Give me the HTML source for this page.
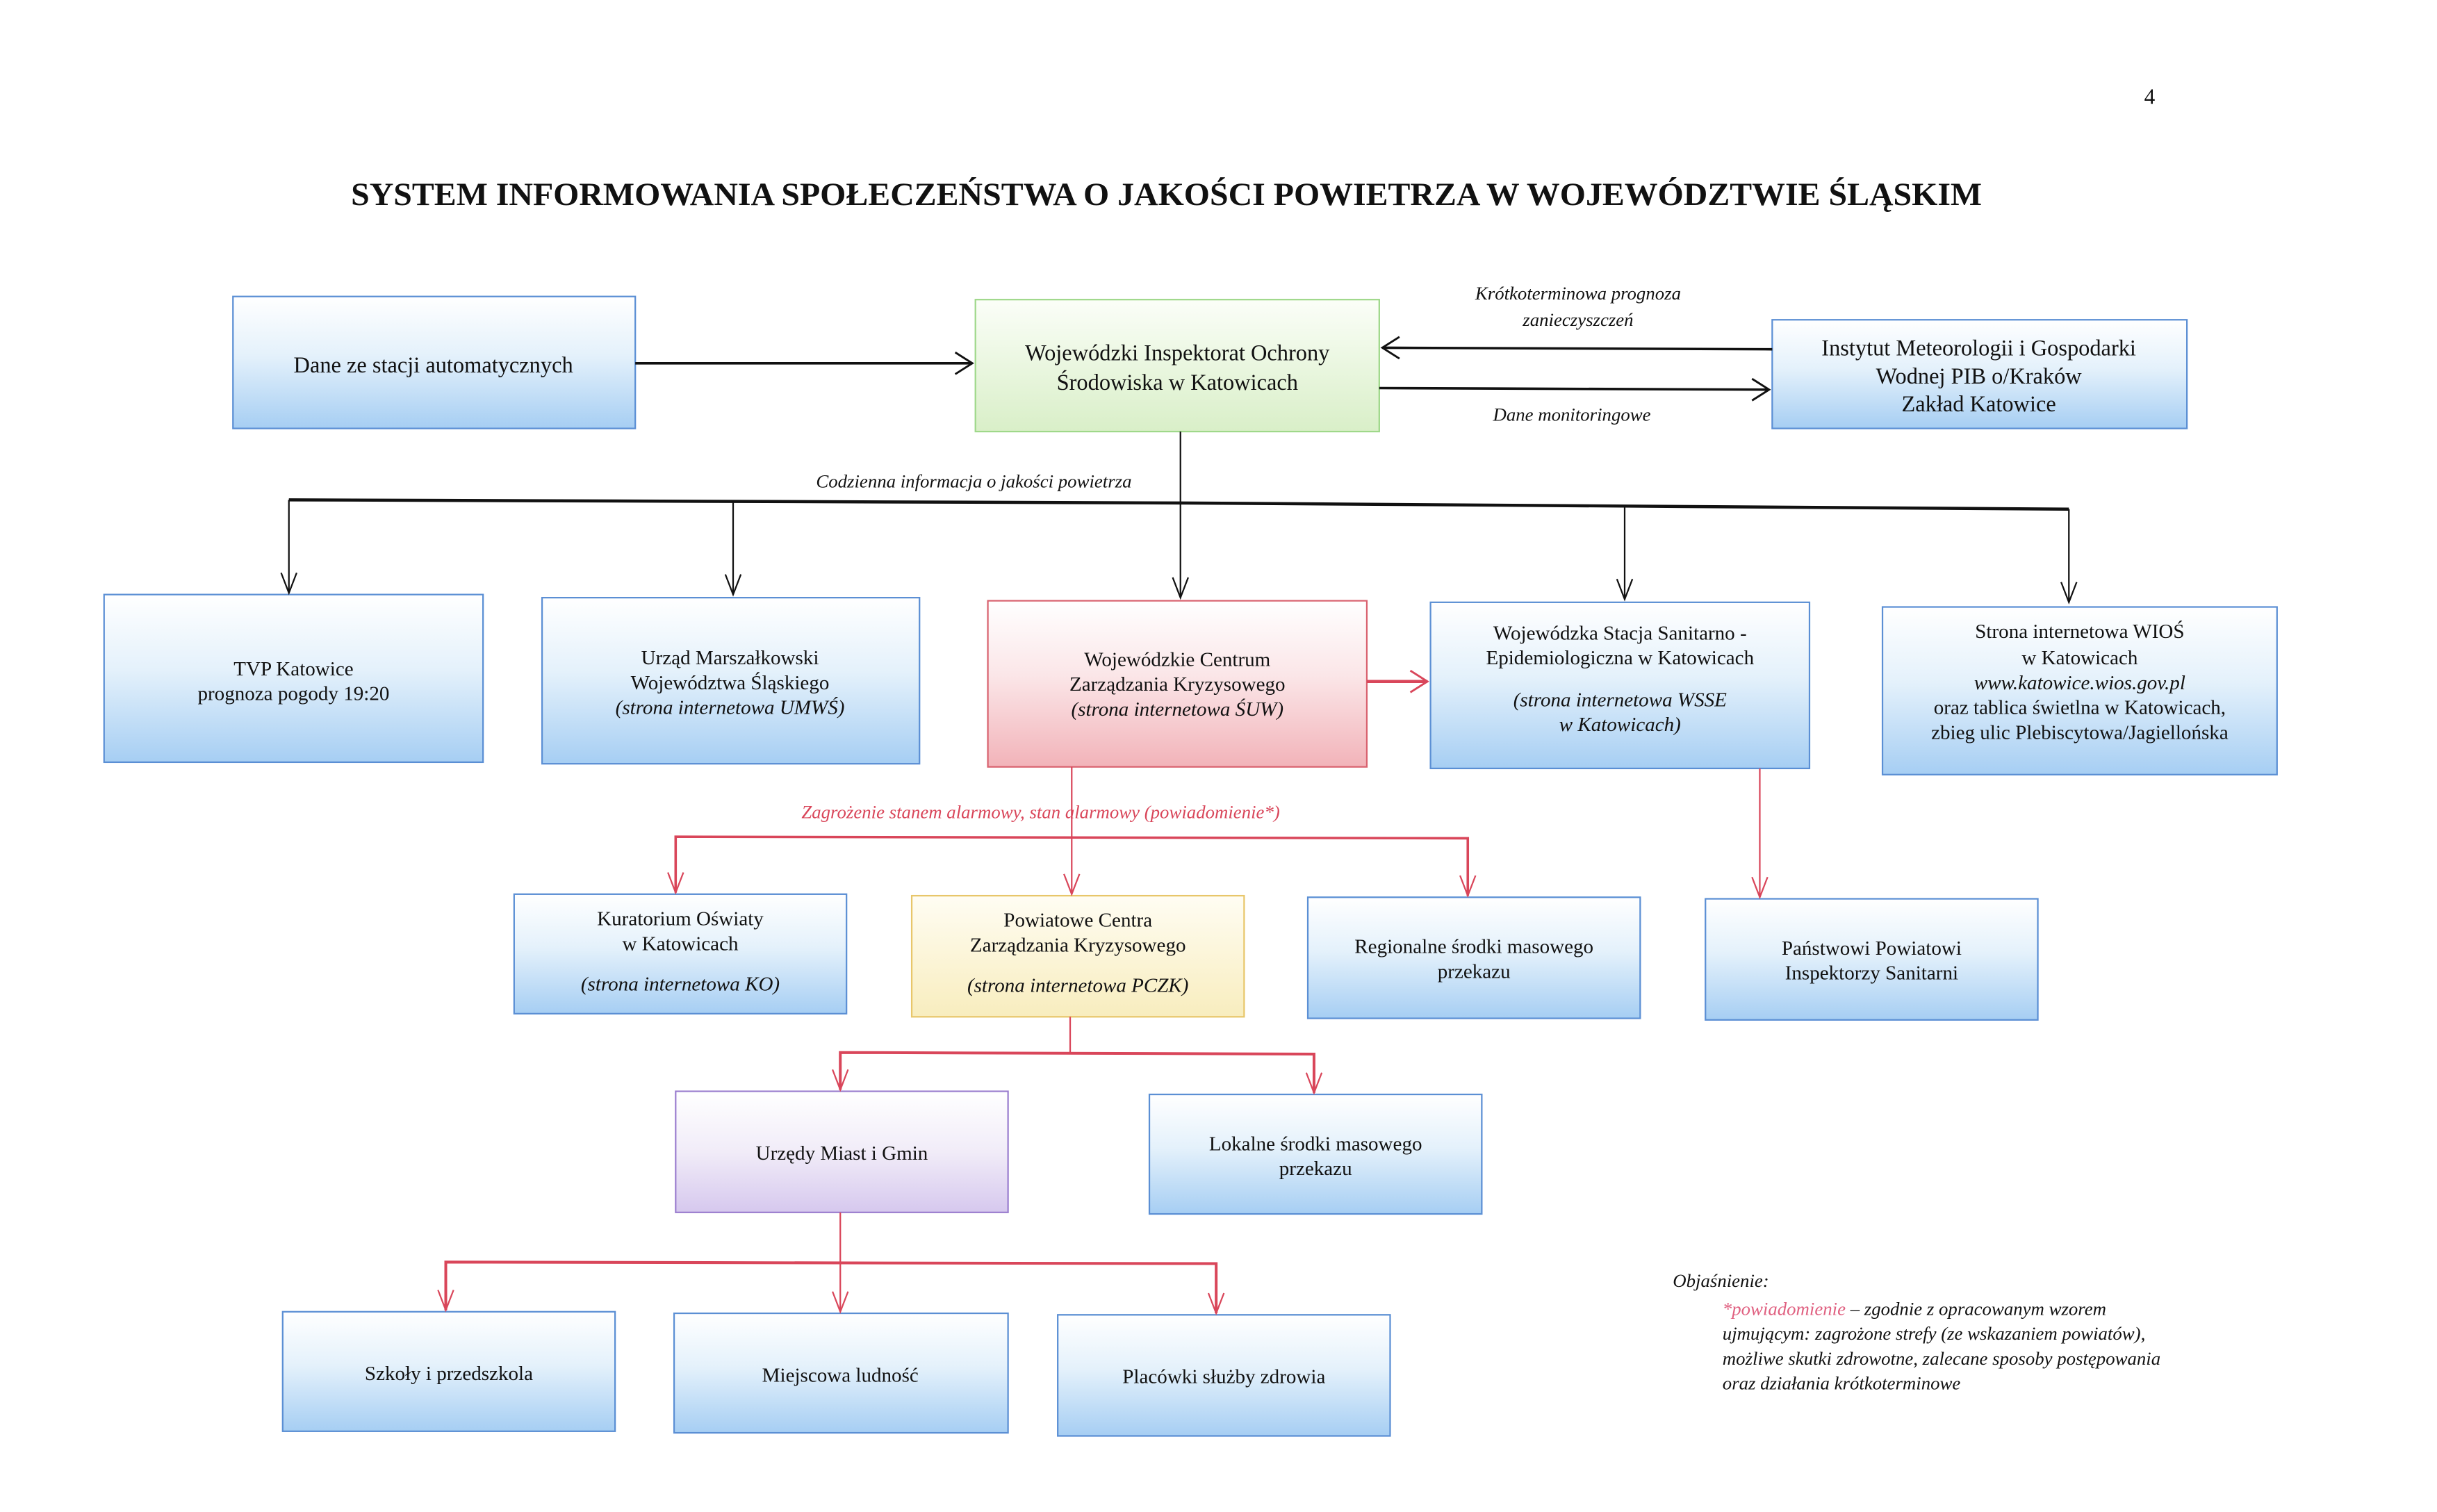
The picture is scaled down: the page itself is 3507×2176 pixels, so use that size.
<!DOCTYPE html>
<html><head><meta charset="utf-8"><style>
html,body{margin:0;padding:0;background:#fff;}
svg{display:block;}
text{font-family:"Liberation Serif",serif;fill:#111;}
</style></head><body>
<svg width="3507" height="2176" viewBox="0 0 1569 974" preserveAspectRatio="none" xmlns="http://www.w3.org/2000/svg">
<defs>
<linearGradient id="gb" x1="0" y1="0" x2="0" y2="1"><stop offset="0" stop-color="#ffffff"/><stop offset="0.45" stop-color="#e4f1fb"/><stop offset="1" stop-color="#a6cef3"/></linearGradient>
<linearGradient id="gp" x1="0" y1="0" x2="0" y2="1"><stop offset="0" stop-color="#ffffff"/><stop offset="0.45" stop-color="#fbe6e8"/><stop offset="1" stop-color="#f2b3b9"/></linearGradient>
<linearGradient id="gg" x1="0" y1="0" x2="0" y2="1"><stop offset="0" stop-color="#fbfef8"/><stop offset="1" stop-color="#d9efc8"/></linearGradient>
<linearGradient id="gy" x1="0" y1="0" x2="0" y2="1"><stop offset="0" stop-color="#fffdf3"/><stop offset="1" stop-color="#f8edbe"/></linearGradient>
<linearGradient id="gv" x1="0" y1="0" x2="0" y2="1"><stop offset="0" stop-color="#ffffff"/><stop offset="0.5" stop-color="#f1ecf8"/><stop offset="1" stop-color="#d6c8ee"/></linearGradient>
</defs>

<text x="1384" y="67" font-size="14" text-anchor="middle">4</text>
<text x="751" y="132" font-size="21" font-weight="bold" text-anchor="middle" textLength="1050" lengthAdjust="spacingAndGlyphs">SYSTEM INFORMOWANIA SPOŁECZEŃSTWA O JAKOŚCI POWIETRZA W WOJEWÓDZTWIE ŚLĄSKIM</text>

<g stroke-width="1">
<rect x="150" y="191" width="259" height="85" fill="url(#gb)" stroke="#5b8fd4"/>
<rect x="628" y="193" width="260" height="85" fill="url(#gg)" stroke="#9fd88a"/>
<rect x="1141" y="206" width="267" height="70" fill="url(#gb)" stroke="#5b8fd4"/>
<rect x="67" y="383" width="244" height="108" fill="url(#gb)" stroke="#5b8fd4"/>
<rect x="349" y="385" width="243" height="107" fill="url(#gb)" stroke="#5b8fd4"/>
<rect x="636" y="387" width="244" height="107" fill="url(#gp)" stroke="#d9626f"/>
<rect x="921" y="388" width="244" height="107" fill="url(#gb)" stroke="#5b8fd4"/>
<rect x="1212" y="391" width="254" height="108" fill="url(#gb)" stroke="#5b8fd4"/>
<rect x="331" y="576" width="214" height="77" fill="url(#gb)" stroke="#5b8fd4"/>
<rect x="587" y="577" width="214" height="78" fill="url(#gy)" stroke="#e8c66a"/>
<rect x="842" y="578" width="214" height="78" fill="url(#gb)" stroke="#5b8fd4"/>
<rect x="1098" y="579" width="214" height="78" fill="url(#gb)" stroke="#5b8fd4"/>
<rect x="435" y="703" width="214" height="78" fill="url(#gv)" stroke="#9b7fcf"/>
<rect x="740" y="705" width="214" height="77" fill="url(#gb)" stroke="#5b8fd4"/>
<rect x="182" y="845" width="214" height="77" fill="url(#gb)" stroke="#5b8fd4"/>
<rect x="434" y="846" width="215" height="77" fill="url(#gb)" stroke="#5b8fd4"/>
<rect x="681" y="847" width="214" height="78" fill="url(#gb)" stroke="#5b8fd4"/>
</g>

<g stroke="#111" fill="none">
<line x1="409" y1="234" x2="626" y2="234" stroke-width="1.6"/>
<polyline points="615,227 626,234 615,241" stroke-width="1.3"/>
<line x1="1141" y1="225" x2="890" y2="224" stroke-width="1.6"/>
<polyline points="901,217 890,224 901,231" stroke-width="1.3"/>
<line x1="888" y1="250" x2="1139" y2="251" stroke-width="1.6"/>
<polyline points="1128,244 1139,251 1128,258" stroke-width="1.3"/>
<line x1="760" y1="278" x2="760" y2="385" stroke-width="1"/>
<polyline points="755,372 760,385 765,372"/>
<polyline points="186,322 760,324 1332,328" stroke-width="2"/>
<line x1="186" y1="322" x2="186" y2="382"/><polyline points="181,369 186,382 191,369"/>
<line x1="472" y1="323" x2="472" y2="383"/><polyline points="467,370 472,383 477,370"/>
<line x1="1046" y1="326" x2="1046" y2="386"/><polyline points="1041,373 1046,386 1051,373"/>
<line x1="1332" y1="328" x2="1332" y2="388"/><polyline points="1327,375 1332,388 1337,375"/>
</g>

<g stroke="#d9465a" fill="none">
<line x1="880" y1="439" x2="919" y2="439" stroke-width="2"/>
<polyline points="908,432 919,439 908,446" stroke-width="1.3"/>
<line x1="690" y1="494" x2="690" y2="576"/><polyline points="685,563 690,576 695,563"/>
<polyline points="435,575 435,539 945,540 945,577" stroke-width="1.6"/>
<polyline points="430,562 435,575 440,562"/><polyline points="940,564 945,577 950,564"/>
<line x1="1133" y1="495" x2="1133" y2="578"/><polyline points="1128,565 1133,578 1138,565"/>
<line x1="689" y1="655" x2="689" y2="678"/>
<polyline points="541,702 541,678 846,679 846,704" stroke-width="1.8"/>
<polyline points="536,689 541,702 546,689"/><polyline points="841,691 846,704 851,691"/>
<line x1="541" y1="781" x2="541" y2="845"/>
<polyline points="287,844 287,813 783,814 783,846" stroke-width="1.8"/>
<polyline points="282,831 287,844 292,831"/><polyline points="536,832 541,845 546,832"/><polyline points="778,833 783,846 788,833"/>
</g>

<g font-style="italic" font-size="12" text-anchor="middle">
<text x="1016" y="193">Krótkoterminowa prognoza</text>
<text x="1016" y="210">zanieczyszczeń</text>
<text x="1012" y="271">Dane monitoringowe</text>
<text x="627" y="314">Codzienna informacja o jakości powietrza</text>
<text x="670" y="527" style="fill:#d9465a">Zagrożenie stanem alarmowy, stan alarmowy (powiadomienie*)</text>
</g>

<g font-size="13" text-anchor="middle">
<text x="279" y="240" font-size="14.5">Dane ze stacji automatycznych</text>
<text x="758" y="232" font-size="14.5">Wojewódzki Inspektorat Ochrony</text>
<text x="758" y="251" font-size="14.5">Środowiska w Katowicach</text>
<text x="1274" y="229" font-size="14.5">Instytut Meteorologii i Gospodarki</text>
<text x="1274" y="247" font-size="14.5">Wodnej PIB o/Kraków</text>
<text x="1274" y="265" font-size="14.5">Zakład Katowice</text>

<text x="189" y="435">TVP Katowice</text>
<text x="189" y="451">prognoza pogody 19:20</text>
<text x="470" y="428">Urząd Marszałkowski</text>
<text x="470" y="444">Województwa Śląskiego</text>
<text x="470" y="460" font-style="italic">(strona internetowa UMWŚ)</text>
<text x="758" y="429">Wojewódzkie Centrum</text>
<text x="758" y="445">Zarządzania Kryzysowego</text>
<text x="758" y="461" font-style="italic">(strona internetowa ŚUW)</text>
<text x="1043" y="412">Wojewódzka Stacja Sanitarno -</text>
<text x="1043" y="428">Epidemiologiczna w Katowicach</text>
<text x="1043" y="455" font-style="italic">(strona internetowa WSSE</text>
<text x="1043" y="471" font-style="italic">w Katowicach)</text>
<text x="1339" y="411">Strona internetowa WIOŚ</text>
<text x="1339" y="428">w Katowicach</text>
<text x="1339" y="444" font-style="italic">www.katowice.wios.gov.pl</text>
<text x="1339" y="460">oraz tablica świetlna w Katowicach,</text>
<text x="1339" y="476">zbieg ulic Plebiscytowa/Jagiellońska</text>

<text x="438" y="596">Kuratorium Oświaty</text>
<text x="438" y="612">w Katowicach</text>
<text x="438" y="638" font-style="italic">(strona internetowa KO)</text>
<text x="694" y="597">Powiatowe Centra</text>
<text x="694" y="613">Zarządzania Kryzysowego</text>
<text x="694" y="639" font-style="italic">(strona internetowa PCZK)</text>
<text x="949" y="614">Regionalne środki masowego</text>
<text x="949" y="630">przekazu</text>
<text x="1205" y="615">Państwowi Powiatowi</text>
<text x="1205" y="631">Inspektorzy Sanitarni</text>
<text x="542" y="747">Urzędy Miast i Gmin</text>
<text x="847" y="741">Lokalne środki masowego</text>
<text x="847" y="757">przekazu</text>
<text x="289" y="889">Szkoły i przedszkola</text>
<text x="541" y="890">Miejscowa ludność</text>
<text x="788" y="891">Placówki służby zdrowia</text>
</g>

<g font-style="italic" font-size="12">
<text x="1077" y="829">Objaśnienie:</text>
<text x="1109" y="847"><tspan style="fill:#e06080">*powiadomienie</tspan> – zgodnie z opracowanym wzorem</text>
<text x="1109" y="863">ujmującym: zagrożone strefy (ze wskazaniem powiatów),</text>
<text x="1109" y="879">możliwe skutki zdrowotne, zalecane sposoby postępowania</text>
<text x="1109" y="895">oraz działania krótkoterminowe</text>
</g>
</svg>
</body></html>
